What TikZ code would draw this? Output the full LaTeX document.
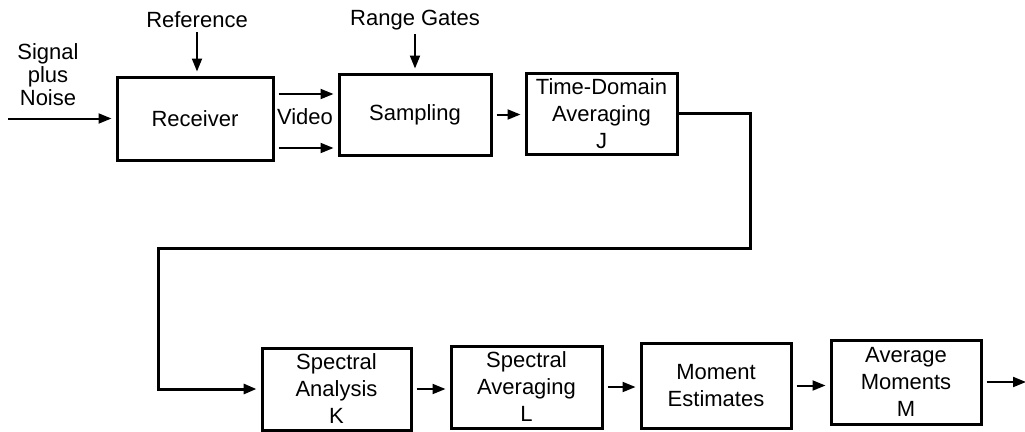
\documentclass[tikz,border=0pt]{standalone}
\usepackage{fontspec}
\setmainfont{Liberation Sans}
\usetikzlibrary{arrows.meta,calc}
\begin{document}
\begin{tikzpicture}[x=1pt,y=-1pt,
  blk/.style={draw,line width=3pt,inner sep=0pt,align=center,
    font=\fontsize{22}{27}\selectfont},
  lbl/.style={inner sep=0pt,align=center,font=\fontsize{22}{23}\selectfont},
  arr/.style={line width=2pt,-{Triangle[length=13pt,width=10pt]},shorten >=4pt,shorten <=4pt},
  loop/.style={line width=3pt,-{Triangle[length=13pt,width=10pt]},shorten >=4pt}]
\useasboundingbox (0,0) rectangle (1025,431);
% top row
\node[blk,minimum width=156pt,minimum height=83pt] (rec) at (195,118.5) {Receiver};
\node[blk,minimum width=152pt,minimum height=81pt] (samp) at (415,114.5) {Sampling};
\node[blk,minimum width=151pt,minimum height=81pt] (td) at (601.5,113.5) {Time-Domain\\Averaging\\J};
% bottom row
\node[blk,minimum width=149pt,minimum height=82pt] (sa) at (336.5,389) {Spectral\\Analysis\\K};
\node[blk,minimum width=151pt,minimum height=82pt] (sav) at (526.5,387) {Spectral\\Averaging\\L};
\node[blk,minimum width=150pt,minimum height=85pt] (me) at (716,385.5) {Moment\\Estimates};
\node[blk,minimum width=150pt,minimum height=84pt] (am) at (906,382) {Average\\Moments\\M};
% labels
\node[lbl] (sig) at (48,75) {Signal\\plus\\Noise};
\node[lbl] (ref) at (197,20) {Reference};
\node[lbl] (rg) at (415,20) {Range Gates};
\node[lbl] (vid) at (305,117) {Video};
% free ends
\coordinate (in) at (4,118.5);
\coordinate (c1) at (750,248);
\coordinate (c2) at (158,248);
\coordinate (out) at (1026,382);
% connectors
\draw[arr] (in) -- (rec.west);
\draw[arr] (ref.south) -- (ref.south |- rec.north);
\draw[arr] (rg.south) -- (rg.south |- samp.north);
\draw[arr] ([yshift=-29.5pt]rec.east) coordinate (v1) -- (v1 -| samp.west);
\draw[arr] ([yshift=24.5pt]rec.east) coordinate (v2) -- (v2 -| samp.west);
\draw[arr] (samp.east) -- (samp.east -| td.west);
\draw[loop] (td.east) -| (c1) -- (c2) |- (sa.west);
\draw[arr] (sa.east) -- (sa.east -| sav.west);
\draw[arr] (sav.east) -- (sav.east -| me.west);
\draw[arr] (me.east) -- (me.east -| am.west);
\draw[arr,shorten >=0pt] (am.east) -- (out);
\end{tikzpicture}
\end{document}
